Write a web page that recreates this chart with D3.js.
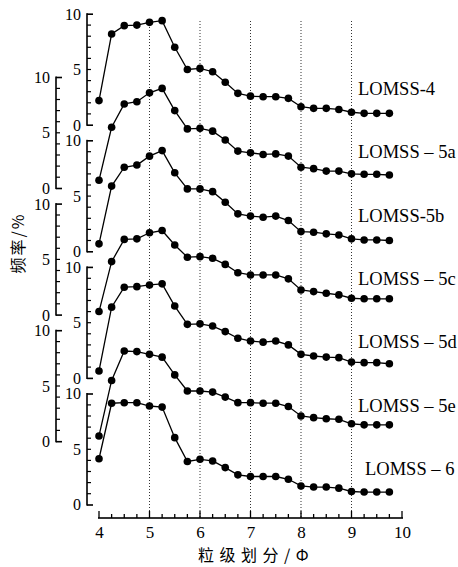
<!DOCTYPE html>
<html>
<head>
<meta charset="utf-8">
<script src="https://cdn.jsdelivr.net/npm/d3@7"></script>
<style>
  html, body { margin: 0; padding: 0; background: #fff; }
  svg { display: block; }
  .cjk { font-family: "Noto Sans CJK SC", sans-serif; }
</style>
</head>
<body>
<svg id="chart" width="458" height="567"></svg>
<script>
// ---- data ----
const seriesNames = ["LOMSS-4", "LOMSS – 5a", "LOMSS-5b", "LOMSS – 5c", "LOMSS – 5d", "LOMSS – 5e", "LOMSS – 6"];
const phi = [4, 4.25, 4.5, 4.75, 5, 5.25, 5.5, 5.75, 6, 6.25, 6.5, 6.75, 7, 7.25, 7.5, 7.75, 8, 8.25, 8.5, 8.75, 9, 9.25, 9.5, 9.75];
const s4  = [2.2, 8.2, 8.95, 9.0, 9.25, 9.4, 7.0, 5.0, 5.1, 4.8, 3.85, 2.85, 2.6, 2.55, 2.55, 2.4, 1.65, 1.5, 1.5, 1.4, 1.15, 1.05, 1.05, 1.05];
const s5a = [0.72, 5.5, 7.6, 7.8, 8.6, 9.0, 7.0, 5.35, 5.4, 5.15, 4.35, 3.35, 3.2, 3.05, 3.1, 2.9, 1.9, 1.77, 1.55, 1.55, 1.3, 1.26, 1.26, 1.2];
const s5b = [0.7, 5.9, 7.6, 7.8, 8.6, 9.1, 7.1, 5.65, 5.65, 5.4, 4.45, 3.4, 3.2, 3.1, 3.2, 2.8, 1.8, 1.75, 1.6, 1.5, 1.15, 1.05, 1.05, 1.0];
const s5c = [0.3, 4.8, 6.8, 6.85, 7.4, 7.6, 6.3, 5.2, 5.25, 5.1, 4.55, 3.8, 3.6, 3.6, 3.6, 3.25, 2.25, 2.1, 1.95, 1.8, 1.5, 1.45, 1.45, 1.45];
const s5d = [0.65, 6.4, 8.2, 8.25, 8.4, 8.5, 6.5, 4.85, 4.9, 4.7, 4.2, 3.6, 3.35, 3.25, 3.35, 3.0, 2.15, 2.0, 1.9, 1.85, 1.45, 1.4, 1.4, 1.3];
const s5e = [0.5, 5.5, 8.15, 8.1, 7.85, 7.6, 6.0, 4.55, 4.55, 4.45, 4.0, 3.5, 3.5, 3.45, 3.45, 3.15, 2.3, 2.15, 2.05, 2.0, 1.6, 1.5, 1.5, 1.5];
const s6  = [4.15, 9.15, 9.2, 9.2, 8.9, 8.8, 6.05, 3.9, 4.1, 3.95, 3.35, 2.7, 2.55, 2.55, 2.55, 2.3, 1.7, 1.6, 1.6, 1.5, 1.2, 1.15, 1.15, 1.15];
const seriesValues = [s4, s5a, s5b, s5c, s5d, s5e, s6];
const xTicks = [4, 5, 6, 7, 8, 9, 10];
const xMinorTicks = [4, 4.25, 4.5, 4.75, 5, 5.25, 5.5, 5.75, 6, 6.25, 6.5, 6.75, 7, 7.25, 7.5, 7.75, 8, 8.25, 8.5, 8.75, 9, 9.25, 9.5, 9.75, 10];
const gridLines = [5, 6, 7, 8, 9];
const yTicks = [0, 1, 2, 3, 4, 5, 6, 7, 8, 9, 10];
const yLabels = [0, 5, 10];
const xTitle = "粒级划分/Φ";
const yTitle = "频率/%";

// ---- layout ----
const svg = d3.select("#chart");
const x = d3.scaleLinear().domain([4, 10]).range([99, 402]);
const xAxisY = 518;
const baseTop = 125, baseStep = 63.3, unitSpan = 111;
const axisXs = [87, 56];
const serifFont = '"Liberation Serif", "DejaVu Serif", serif';

const yScales = seriesValues.map((_, i) =>
  d3.scaleLinear().domain([0, 10]).range([baseTop + i * baseStep, baseTop + i * baseStep - unitSpan]));

// grid dotted lines
svg.append("g").selectAll("line").data(gridLines).join("line")
  .attr("x1", d => x(d)).attr("x2", d => x(d))
  .attr("y1", 21).attr("y2", xAxisY)
  .attr("stroke", "#333").attr("stroke-width", 1)
  .attr("stroke-dasharray", "1,2");

// x axis labels via d3 axis
const xAxis = d3.axisBottom(x).tickValues(xTicks)
  .tickSize(0).tickPadding(8).tickFormat(d => d);
const gx = svg.append("g").attr("transform", `translate(0,${xAxisY})`).call(xAxis);
gx.select(".domain").remove();
gx.selectAll(".tick line").remove();
gx.selectAll(".tick text").attr("fill", "#000").attr("font-family", serifFont).attr("font-size", 17);

// x axis rule and ticks as filled rects from the scale
const xRule = svg.append("g").attr("fill", "#000");
xRule.append("rect")
  .attr("x", x(4) - 1).attr("y", xAxisY - 0.8)
  .attr("width", x(10) - x(4) + 2).attr("height", 1.6);
xRule.selectAll("rect.xt").data(xMinorTicks).join("rect")
  .attr("class", "xt")
  .attr("x", d => x(d) - 0.65)
  .attr("y", d => xAxisY - (xTicks.includes(d) ? 7 : 4))
  .attr("width", 1.3)
  .attr("height", d => (xTicks.includes(d) ? 7 : 4));

// y axes + series
seriesValues.forEach((vals, i) => {
  const y = yScales[i];
  const ax = axisXs[i % 2];
  const yAxis = d3.axisLeft(y).tickValues(yLabels)
    .tickSize(0).tickPadding(6).tickFormat(d => d);
  const gy = svg.append("g").attr("transform", `translate(${ax},0)`).call(yAxis);
  gy.select(".domain").remove();
  gy.selectAll(".tick line").remove();
  gy.selectAll(".tick text").attr("fill", "#000").attr("font-family", serifFont).attr("font-size", 16);

  const rule = svg.append("g").attr("fill", "#000");
  const top = y(10), bottom = y(0);
  rule.append("rect")
    .attr("x", ax - 0.8).attr("y", top - 0.8)
    .attr("width", 1.6).attr("height", bottom - top + 1.6);
  rule.selectAll("rect.yt").data(yTicks).join("rect")
    .attr("class", "yt")
    .attr("x", ax)
    .attr("y", d => y(d) - 0.6)
    .attr("width", d => (d === 0 || d === 10) ? 6 : 4)
    .attr("height", d => (d === 0 || d === 10) ? 1.6 : 1.2);

  const pts = phi.map((p, j) => [p, vals[j]]);
  const lineGen = d3.line().x(d => x(d[0])).y(d => y(d[1]));
  svg.append("path").datum(pts)
    .attr("d", lineGen).attr("fill", "none")
    .attr("stroke", "#000").attr("stroke-width", 1.3);
  svg.append("g").selectAll("circle").data(pts).join("circle")
    .attr("cx", d => x(d[0])).attr("cy", d => y(d[1]))
    .attr("r", 3.8).attr("fill", "#000");

  svg.append("text").attr("font-family", serifFont)
    .attr("x", i === seriesValues.length - 1 ? 365 : 358)
    .attr("y", y(2.7))
    .attr("font-size", 18.5).attr("fill", "#000")
    .text(seriesNames[i]);
});

// titles
svg.append("text").attr("class", "cjk")
  .attr("x", 198).attr("y", 561)
  .attr("font-size", 16).attr("letter-spacing", "5.5px").attr("fill", "#000")
  .text(xTitle);
svg.append("text").attr("class", "cjk")
  .attr("transform", "translate(24,243) rotate(-90)")
  .attr("text-anchor", "middle")
  .attr("font-size", 16).attr("letter-spacing", "2px").attr("fill", "#000")
  .text(yTitle);
</script>
</body>
</html>
